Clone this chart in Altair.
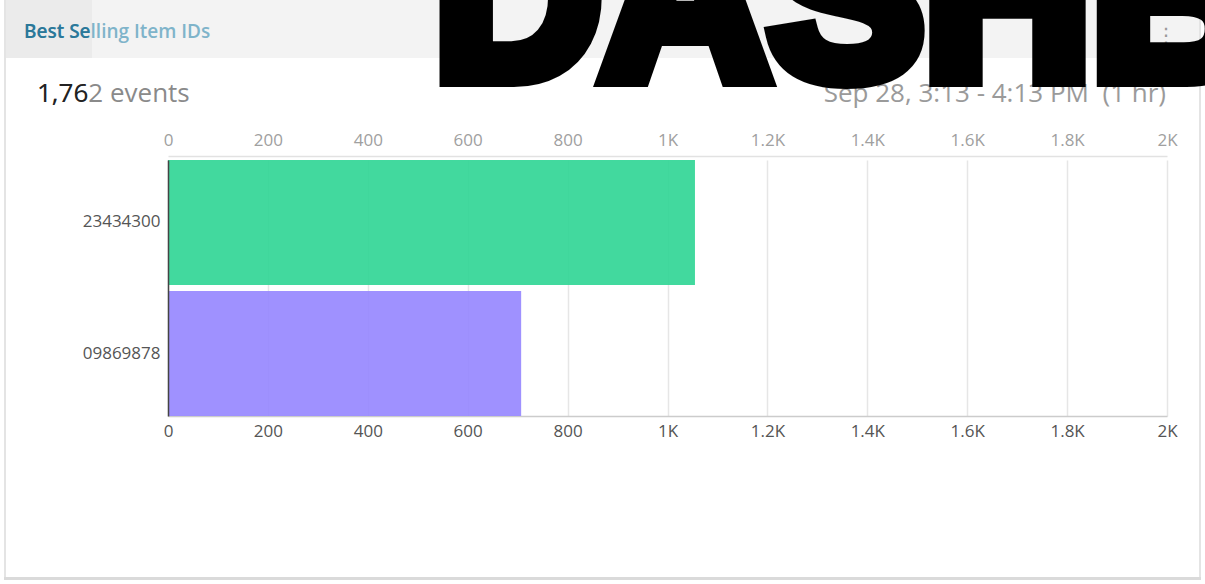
import altair as alt
import pandas as pd

# ---- data ----
item_ids = ["23434300", "09869878"]
event_counts = [1055, 707]
bar_colors = ["#2ED593", "#9585FF"]
x_ticks = [0, 200, 400, 600, 800, 1000, 1200, 1400, 1600, 1800, 2000]

title_text = "Best Selling Item IDs"
title_dark_part = "Best Se"
events_text = "1,762 events"
events_dark_part = "1,76"
range_text = "Sep 28, 3:13 - 4:13 PM\u00a0 (1 hr)"
overlay_text = "DASHB"

df = pd.DataFrame({"item": item_ids, "count": event_counts, "color": bar_colors})
one = pd.DataFrame({"k": [0]})

# ---- layout (plot area) ----
L, T = 168, 160
W, H = 999, 256

label_expr = "datum.value >= 1000 ? format(datum.value / 1000, '~g') + 'K' : format(datum.value, 'd')"
xscale = alt.Scale(domain=[0, 2000], nice=False, zero=True)
yenc = alt.Y(
    "item:N", sort=item_ids,
    scale=alt.Scale(paddingInner=0.047, paddingOuter=0),
    axis=alt.Axis(title=None, domainColor="#444444", domainWidth=1.5, ticks=False,
                  labelColor="#555555", labelFontSize=17, labelFont="Open Sans",
                  labelPadding=8, grid=False, zindex=1),
)

bars = alt.Chart(df).mark_bar(opacity=0.9).encode(
    x=alt.X("count:Q", scale=xscale,
            axis=alt.Axis(orient="bottom", values=x_ticks, labelExpr=label_expr, title=None,
                          grid=True, gridColor="#e6e6e6", gridWidth=1.5,
                          domainColor="#cccccc", domainWidth=1.5, ticks=False,
                          labelColor="#555555", labelFontSize=17, labelFont="Open Sans",
                          labelPadding=7, labelFlush=False, labelOverlap=False)),
    y=yenc,
    color=alt.Color("color:N", scale=None),
)

top_axis = alt.Chart(df).mark_bar(opacity=0).encode(
    x=alt.X("count:Q", scale=xscale,
            axis=alt.Axis(orient="top", values=x_ticks, labelExpr=label_expr, title=None,
                          grid=False, domainColor="#e2e2e2", domainWidth=1.5, ticks=False,
                          offset=4, labelColor="#a0a0a0", labelFontSize=17, labelFont="Open Sans",
                          labelPadding=7, labelFlush=False, labelOverlap=False)),
    y=yenc,
)


def px(x):
    return alt.value(x - L)


def py(y):
    return alt.value(y - T)


def rect(x1, x2, y1, y2, color):
    return alt.Chart(one).mark_rect(color=color).encode(x=px(x1), x2=px(x2), y=py(y1), y2=py(y2))


def text(t, x, y, size, color, align="left", weight="normal", font="Open Sans", **kw):
    return alt.Chart(one).mark_text(
        text=t, align=align, baseline="alphabetic", fontSize=size, color=color,
        fontWeight=weight, font=font, **kw
    ).encode(x=px(x), y=py(y))


header_bg = rect(5, 1200, 0, 58, "#f3f3f3")
header_tab = rect(5, 92, 0, 58, "#ebebeb")
left_border = rect(4, 6, 0, 579, "#e4e4e4")
right_border = rect(1199, 1201, 0, 579, "#e4e4e4")
bottom_border = rect(4, 1201, 577, 580, "#dadada")

title_light = text(title_text, 24, 38, 19, "#7fb4ca", weight=600)
title_dark = text(title_dark_part, 24, 38, 19, "#2b7899", weight=600)
dots = text("⋮", 1166, 42, 20, "#999999", align="center", font="DejaVu Sans")
events_light = text(events_text, 37, 102, 26, "#8a8a8a")
events_dark = text(events_dark_part, 37, 102, 26, "#222222")
range_t = text(range_text, 1166, 102, 26, "#9a9a9a", align="right")
overlay = alt.Chart(one).mark_text(
    text=overlay_text, align="left", baseline="alphabetic", fontSize=232,
    font="Liberation Sans", fontWeight="bold", color="black", stroke="black", strokeWidth=20,
).encode(x=px(434), y=py(77))

chart = alt.layer(
    header_bg, header_tab, left_border, right_border, bottom_border,
    title_light, title_dark, dots, events_light, events_dark, range_t, overlay,
    bars, top_axis,
).resolve_axis(x="independent").properties(
    width=W, height=H,
    padding={"left": L, "top": T, "right": 1205 - L - W, "bottom": 584 - T - H},
    autosize=alt.AutoSizeParams(type="none"),
    background="white",
).configure_view(stroke=None)

chart.save("out.html", embed_options={"renderer": "svg", "actions": False})
